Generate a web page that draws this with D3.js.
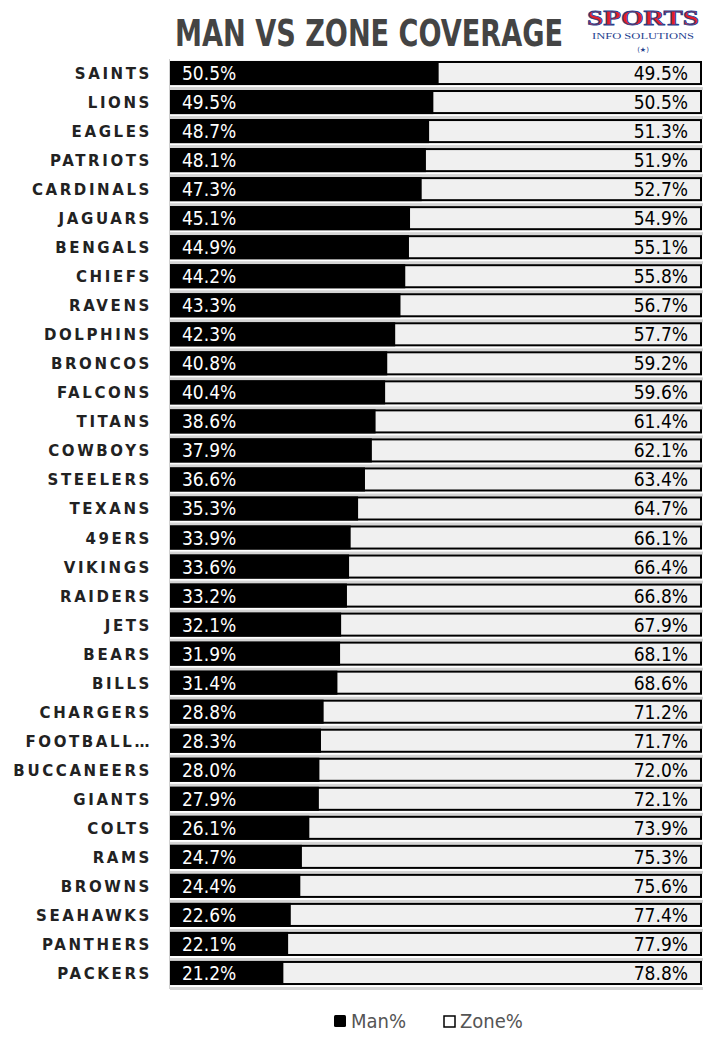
<!DOCTYPE html>
<html><head><meta charset="utf-8">
<script src="https://cdn.jsdelivr.net/npm/d3@7"></script>
<style>
body{margin:0;background:#fff;}
svg{display:block;}
</style></head>
<body>
<script>
const teams = ["SAINTS","LIONS","EAGLES","PATRIOTS","CARDINALS","JAGUARS","BENGALS","CHIEFS","RAVENS","DOLPHINS","BRONCOS","FALCONS","TITANS","COWBOYS","STEELERS","TEXANS","49ERS","VIKINGS","RAIDERS","JETS","BEARS","BILLS","CHARGERS","FOOTBALL…","BUCCANEERS","GIANTS","COLTS","RAMS","BROWNS","SEAHAWKS","PANTHERS","PACKERS"];
const manPct = [50.5,49.5,48.7,48.1,47.3,45.1,44.9,44.2,43.3,42.3,40.8,40.4,38.6,37.9,36.6,35.3,33.9,33.6,33.2,32.1,31.9,31.4,28.8,28.3,28.0,27.9,26.1,24.7,24.4,22.6,22.1,21.2];
const zonePct = [49.5,50.5,51.3,51.9,52.7,54.9,55.1,55.8,56.7,57.7,59.2,59.6,61.4,62.1,63.4,64.7,66.1,66.4,66.8,67.9,68.1,68.6,71.2,71.7,72.0,72.1,73.9,75.3,75.6,77.4,77.9,78.8];
const seriesNames = ["Man%","Zone%"];
const title = "MAN VS ZONE COVERAGE";

const W = 710, H = 1038;
const svg = d3.select("body").append("svg").attr("width", W).attr("height", H);
const fontCond = "'DejaVu Sans Condensed','DejaVu Sans',sans-serif";

const x = d3.scaleLinear().domain([0,100]).range([171,701]);
const y = d3.scaleBand().domain(teams).range([58.5, 987.5]).paddingInner(0.24).paddingOuter(0.12);

// title
svg.append("g").attr("transform","translate(369,46) scale(1,1.15)")
  .append("text").attr("x", 0).attr("y", 0).attr("text-anchor","middle")
  .attr("font-family", fontCond).attr("font-weight","bold").attr("font-size", 32)
  .attr("fill","#444").attr("textLength", 388).attr("lengthAdjust","spacingAndGlyphs").text(title);

// logo
const logo = svg.append("g");
logo.append("text").attr("x", 643).attr("y", 25).attr("text-anchor","middle")
  .attr("font-family","'Liberation Serif',serif").attr("font-weight","bold").attr("font-size", 22)
  .attr("fill","#e0202a").attr("stroke","#23408e").attr("stroke-width",0.8)
  .attr("textLength",112).attr("lengthAdjust","spacingAndGlyphs").text("SPORTS");
logo.append("text").attr("x", 643).attr("y", 39).attr("text-anchor","middle")
  .attr("font-family","'Liberation Serif',serif").attr("font-size", 8)
  .attr("fill","#23408e").attr("textLength",102).attr("lengthAdjust","spacingAndGlyphs").text("INFO SOLUTIONS");
logo.append("text").attr("x", 643).attr("y", 52).attr("text-anchor","middle")
  .attr("font-family","'DejaVu Sans',sans-serif").attr("font-size", 7)
  .attr("fill","#23408e").text("(★)");

// left gray axis line
svg.append("line").attr("x1",169.5).attr("x2",169.5).attr("y1",59).attr("y2",989)
  .attr("stroke","#d0d0d0").attr("stroke-width",1);

const rows = svg.append("g").selectAll("g").data(teams).join("g");
// gray separators
rows.append("rect").attr("x",170).attr("width",533)
  .attr("y", d => y(d) + y.bandwidth() + 3).attr("height",3).attr("fill","#d4d4d4");

// zone (full) bar
rows.append("rect").attr("x", x(0)).attr("width", x(100)-x(0))
  .attr("y", d => y(d)).attr("height", y.bandwidth())
  .attr("fill","#f0f0f0").attr("stroke","#000").attr("stroke-width",2);
// man bar
rows.append("rect").attr("x", x(0)-1).attr("width", (d,i) => x(manPct[i]) - x(0) + 1)
  .attr("y", d => y(d)-1).attr("height", y.bandwidth()+2).attr("fill","#000");

// labels
rows.append("text").attr("x", 152).attr("y", d => y(d) + y.bandwidth()/2 + 6)
  .attr("text-anchor","end").attr("font-family","'DejaVu Sans',sans-serif").attr("font-weight","bold")
  .attr("font-size", 15).attr("letter-spacing", 2.6).attr("fill","#222").text(d => d);

rows.append("text").attr("x", 182).attr("y", d => y(d) + y.bandwidth()/2 + 7)
  .attr("font-family", fontCond).attr("font-size", 19).attr("fill","#fff")
  .text((d,i) => manPct[i].toFixed(1) + "%");
rows.append("text").attr("x", 688).attr("y", d => y(d) + y.bandwidth()/2 + 7)
  .attr("text-anchor","end").attr("font-family", fontCond).attr("font-size", 19).attr("fill","#000")
  .text((d,i) => zonePct[i].toFixed(1) + "%");

// legend
const leg = svg.append("g");
leg.append("rect").attr("x",334).attr("y",1015).attr("width",12).attr("height",12).attr("rx",1.5).attr("fill","#000");
leg.append("text").attr("x",351).attr("y",1028).attr("font-family",fontCond).attr("font-size",20).attr("fill","#555").text(seriesNames[0]);
leg.append("rect").attr("x",444).attr("y",1016).attr("width",11).attr("height",11).attr("fill","#fff").attr("stroke","#000").attr("stroke-width",1.5);
leg.append("text").attr("x",460).attr("y",1028).attr("font-family",fontCond).attr("font-size",20).attr("fill","#555").text(seriesNames[1]);
</script>
</body></html>
